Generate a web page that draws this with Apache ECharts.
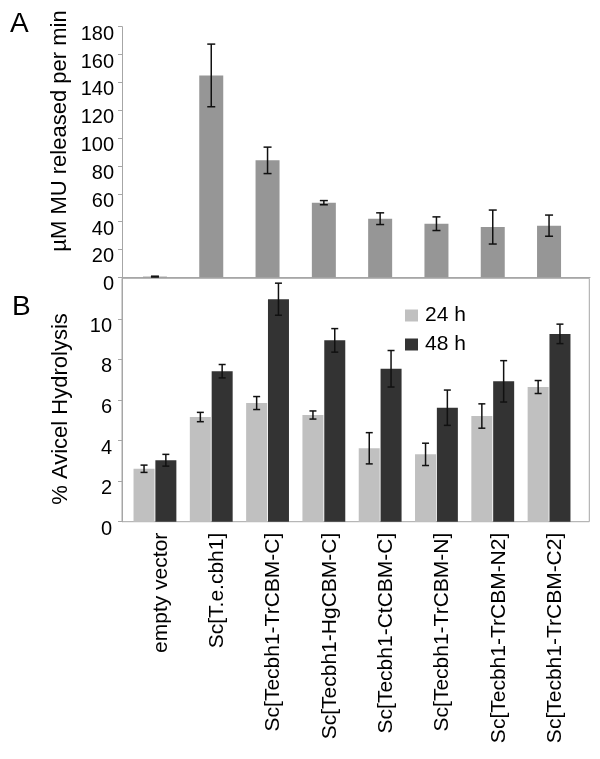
<!DOCTYPE html>
<html>
<head>
<meta charset="utf-8">
<script src="https://cdn.jsdelivr.net/npm/echarts@6/dist/echarts.min.js"></script>
<style>html,body{margin:0;padding:0;background:#fff;}#c{width:600px;height:759px;}</style>
</head>
<body>
<div id="c"></div>
<script>
const categories = ['empty vector','Sc[T.e.cbh1]','Sc[Tecbh1-TrCBM-C]','Sc[Tecbh1-HgCBM-C]','Sc[Tecbh1-CtCBM-C]','Sc[Tecbh1-TrCBM-N]','Sc[Tecbh1-TrCBM-N2]','Sc[Tecbh1-TrCBM-C2]'];
const muValues = [0.5, 145, 84, 53.6, 42.1, 38.5, 36.1, 37.1];
const muErrors = [0.3, 22.5, 9.5, 1.5, 4.2, 4.9, 12.2, 7.6];
const h24Values = [2.61, 5.16, 5.85, 5.26, 3.62, 3.32, 5.21, 6.64];
const h24Errors = [0.18, 0.23, 0.32, 0.2, 0.77, 0.55, 0.6, 0.32];
const h48Values = [3.03, 7.42, 10.97, 8.94, 7.54, 5.62, 6.92, 9.26];
const h48Errors = [0.29, 0.33, 0.79, 0.58, 0.9, 0.87, 1.02, 0.48];
const seriesNames = ['24 h', '48 h'];
const aAxis = {min: 0, max: 180, interval: 20};
const bAxis = {min: 0, max: 12, interval: 2};

const FONT = 'Liberation Sans, Arial, sans-serif';
const GREY = '#a6a6a6';

function errItem(offset, cap) {
  return function (params, api) {
    const c = api.value(0), v = api.value(1), e = api.value(2);
    const top = api.coord([c, v + e]);
    const bot = api.coord([c, v - e]);
    const x = top[0] + offset;
    const st = {stroke: '#111', lineWidth: 1.5};
    return {type: 'group', children: [
      {type: 'line', shape: {x1: x, y1: top[1], x2: x, y2: bot[1]}, style: st},
      {type: 'line', shape: {x1: x - cap, y1: top[1], x2: x + cap, y2: top[1]}, style: st},
      {type: 'line', shape: {x1: x - cap, y1: bot[1], x2: x + cap, y2: bot[1]}, style: st}
    ]};
  };
}
const errData = (vals, errs) => vals.map((v, i) => [i, v, errs[i]]);

const yLabel = {fontSize: 20, fontFamily: FONT, color: '#000', margin: 8, verticalAlign: 'top', lineHeight: 15};

const chart = echarts.init(document.getElementById('c'), null, {renderer: 'canvas'});
chart.setOption({
  animation: false,
  backgroundColor: '#fff',
  grid: [
    {left: 122, top: 26.7, width: 468, height: 250.6},
    {left: 126.8, top: 26.7, width: 450.4, height: 250.6},
    {left: 122, top: 278.3, width: 467.3, height: 243.4, show: true, borderColor: GREY, borderWidth: 1, backgroundColor: 'transparent'},
    {left: 126.8, top: 278.3, width: 450.4, height: 243.4}
  ],
  xAxis: [
    {gridIndex: 0, type: 'value', min: 0, max: 1, axisLine: {show: true, lineStyle: {color: GREY}}, axisTick: {show: false}, axisLabel: {show: false}, splitLine: {show: false}},
    {gridIndex: 1, type: 'category', data: categories, show: false},
    {gridIndex: 2, type: 'value', min: 0, max: 1, show: false},
    {gridIndex: 3, type: 'category', data: categories, axisLine: {show: false}, axisTick: {show: false},
      axisLabel: {rotate: 90, interval: 0, fontSize: 21, fontFamily: FONT, color: '#000', margin: 11, verticalAlign: 'top', lineHeight: 12}}
  ],
  yAxis: [
    {gridIndex: 0, type: 'value', min: aAxis.min, max: aAxis.max, interval: aAxis.interval,
      axisLine: {show: true, lineStyle: {color: GREY}}, axisTick: {show: true, length: 4, lineStyle: {color: GREY}},
      splitLine: {show: false}, axisLabel: yLabel},
    {gridIndex: 1, type: 'value', min: aAxis.min, max: aAxis.max, show: false},
    {gridIndex: 2, type: 'value', min: bAxis.min, max: bAxis.max, interval: bAxis.interval,
      axisLine: {show: true, lineStyle: {color: GREY}}, axisTick: {show: true, length: 4, lineStyle: {color: GREY}},
      splitLine: {show: false}, axisLabel: Object.assign({}, yLabel, {margin: 10, showMaxLabel: false})},
    {gridIndex: 3, type: 'value', min: bAxis.min, max: bAxis.max, show: false}
  ],
  legend: {
    data: seriesNames, orient: 'vertical', left: 405, top: 305, padding: 0,
    itemWidth: 13, itemHeight: 12, itemGap: 8, icon: 'rect',
    textStyle: {fontSize: 21, fontFamily: FONT, color: '#000', padding: [0, 0, 0, 2]}
  },
  graphic: [
    {type: 'text', left: 10, top: 10, style: {text: 'A', fontSize: 28, fontFamily: FONT, fill: '#000'}},
    {type: 'text', left: 12, top: 293, style: {text: 'B', fontSize: 28, fontFamily: FONT, fill: '#000'}},
    {type: 'text', x: 60, y: 131, rotation: Math.PI / 2, style: {text: 'µM MU released per min', fontSize: 22, fontFamily: FONT, fill: '#000', align: 'center', verticalAlign: 'middle'}},
    {type: 'text', x: 61, y: 409, rotation: Math.PI / 2, style: {text: '% Avicel Hydrolysis', fontSize: 22, fontFamily: FONT, fill: '#000', align: 'center', verticalAlign: 'middle'}}
  ],
  series: [
    {type: 'bar', name: 'MU', xAxisIndex: 1, yAxisIndex: 1, data: muValues, barWidth: 24, itemStyle: {color: '#969696'}},
    {type: 'custom', xAxisIndex: 1, yAxisIndex: 1, data: errData(muValues, muErrors), encode: {x: 0, y: 1}, renderItem: errItem(0, 4), z: 5},
    {type: 'bar', name: seriesNames[0], xAxisIndex: 3, yAxisIndex: 3, data: h24Values, barWidth: 21, barGap: '4%', itemStyle: {color: '#c0c0c0'}},
    {type: 'bar', name: seriesNames[1], xAxisIndex: 3, yAxisIndex: 3, data: h48Values, barWidth: 21, barGap: '4%', itemStyle: {color: '#333333'}},
    {type: 'custom', xAxisIndex: 3, yAxisIndex: 3, data: errData(h24Values, h24Errors), encode: {x: 0, y: 1}, renderItem: errItem(-10.9, 3.5), z: 5},
    {type: 'custom', xAxisIndex: 3, yAxisIndex: 3, data: errData(h48Values, h48Errors), encode: {x: 0, y: 1}, renderItem: errItem(10.9, 3.5), z: 5}
  ]
});
</script>
</body>
</html>
